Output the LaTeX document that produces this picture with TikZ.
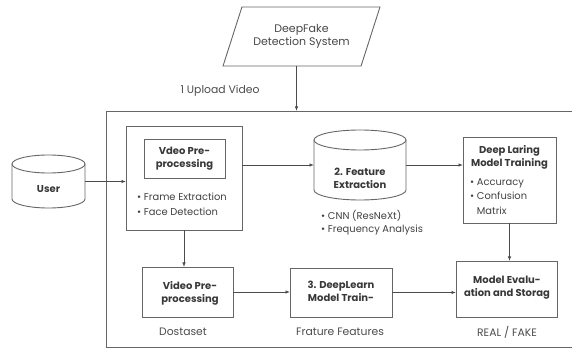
\documentclass[tikz,border=0pt]{standalone}
\usepackage{fontspec}
\setmainfont{Poppins}
\usetikzlibrary{arrows.meta,shapes.geometric,positioning}
\tikzset{
  font=\fontsize{9.9}{14.5}\selectfont,
  >={Latex[length=4.5pt,width=3.5pt]},
  line/.style={draw=black!60, line width=0.9pt},
  arr/.style={draw=black!70, line width=0.8pt, ->},
  box/.style={line, rectangle, inner sep=0pt, outer sep=0pt},
  hold/.style={inner sep=0pt, outer sep=0pt},
  txt/.style={inner sep=1pt, text=black!75, align=left},
  lab/.style={inner sep=1pt, text=black!70, font=\fontsize{10.8}{13}\selectfont},
  ttl/.style={inner sep=1pt, text=black!78, align=center, font=\fontsize{10}{13}\selectfont\bfseries},
}
\begin{document}
\begin{tikzpicture}[x=1pt,y=-1pt]
\useasboundingbox (0,0) rectangle (572,352);
% outer frame (right edge runs off the page)
\node[box, minimum width=467, minimum height=236] (frame) at (339.5,229) {};
% system input
\node[line, trapezium, trapezium left angle=58, trapezium right angle=122,
      minimum width=157, minimum height=59, inner sep=0pt, trapezium stretches=true,
      align=center, text=black!72, font=\fontsize{11}{13.5}\selectfont] (sys) at (301.5,36.5) {DeepFake\\Detection System};
\node[lab] (upl) at (220,91) {1 Upload Video};
\draw[arr] ([xshift=-5pt]sys.south) -- ([xshift=-5pt]sys.south |- frame.north);
% user store, rx 36.5 ry 9
\node[hold, minimum width=73, minimum height=53] (user) at (48.5,181.5) {};
\draw[line] ([yshift=-9pt]user.north west) -- ([yshift=9pt]user.south west)
  arc[start angle=180, end angle=360, x radius=36.5pt, y radius=9pt]
  -- ([yshift=-9pt]user.north east);
\draw[line] ([yshift=-9pt]user.north) ellipse[x radius=36.5pt, y radius=9pt];
\node[ttl] (userT) at (48.5,189) {User};
% pre-processing block
\node[box, minimum width=116, minimum height=104] (pre) at (184,178) {};
\node[box, minimum width=81, minimum height=39] (preIn) at (184.5,158.5) {};
\node[ttl] (preInT) at (184.5,158.5) {Vdeo Pre-\\processing};
\node[txt, anchor=west] (preB1) at (136,197) {\textbullet\ Frame Extraction};
\node[txt, anchor=west] (preB2) at (136,212) {\textbullet\ Face Detection};
% feature extraction store, rx 46 ry 10
\node[hold, minimum width=92, minimum height=70] (feat) at (360,165) {};
\draw[line] ([yshift=-10pt]feat.north west) -- ([yshift=10pt]feat.south west)
  arc[start angle=180, end angle=360, x radius=46pt, y radius=10pt]
  -- ([yshift=-10pt]feat.north east);
\draw[line] ([yshift=-10pt]feat.north) ellipse[x radius=46pt, y radius=10pt];
\node[ttl] (featT) at (360,178) {2. Feature\\Extraction};
\node[txt, anchor=west] (featB1) at (320,216) {\textbullet\ CNN (ResNeXt)};
\node[txt, anchor=west] (featB2) at (320,230) {\textbullet\ Frequency Analysis};
% training block
\node[box, minimum width=93, minimum height=86] (train) at (509.5,180) {};
\node[ttl] (trainT) at (509.5,157.5) {Deep Laring\\Model Training};
\node[txt, anchor=west] (trainB) at (469,196.5) {\textbullet\ Accuracy\\\textbullet\ Confusion\\\phantom{\textbullet\ }Matrix};
% lower row
\node[box, minimum width=91, minimum height=50] (prep) at (187.5,292) {};
\node[ttl] (prepT) at (190,293.5) {Video Pre-\\processing};
\node[box, minimum width=102, minimum height=49] (learn) at (341,292.5) {};
\node[ttl] (learnT) at (341,291.5) {3. DeepLearn\\Model Train-};
\node[box, minimum width=101, minimum height=56] (evalbox) at (506.5,289) {};
\node[ttl] (evalT) at (507,287.5) {Model Evalu-\\ation and Storag};
\node[lab] (dset) at (183,332) {Dostaset};
\node[lab] (ffeat) at (340,332) {Frature Features};
\node[lab] (rf) at (507,332) {REAL / FAKE};
% connectors
\draw[arr] (user.east) -- (user.east -| pre.west);
\draw[arr] (pre.east |- feat.west) -- (feat.west);
\draw[arr] (feat.east) -- (feat.east -| train.west);
\draw[arr] (train.south) -- (train.south |- evalbox.north);
\draw[arr] (pre.south) -- (pre.south |- prep.north);
\draw[arr] (prep.east) -- (prep.east -| learn.west);
\draw[arr] (learn.east) -- (learn.east -| evalbox.west);
\end{tikzpicture}
\end{document}
